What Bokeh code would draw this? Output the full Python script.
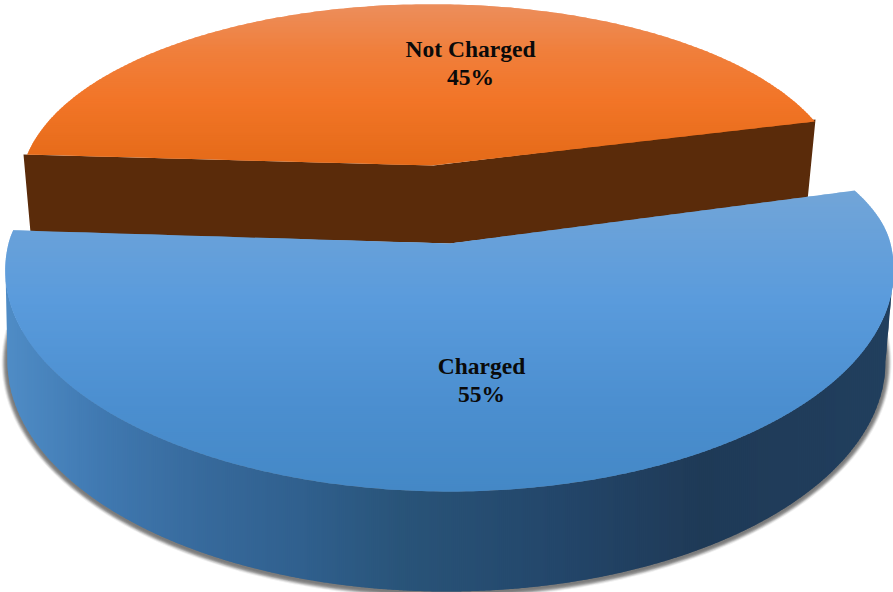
import numpy as np
from bokeh.plotting import figure
from bokeh.models import Range1d
from bokeh.core.properties import value
from bokeh.embed import file_html
from bokeh.resources import INLINE

# data
categories = ["Charged", "Not Charged"]
shares = [55, 45]
share_labels = ["55%", "45%"]

# geometry of the tilted pie, in reference pixels
W, H = 893, 592
START_DEG = -14.5
K = -0.122
BLUE_TOP = dict(x0=449, y0=243, a=441, b=217.7, pinch=0.35)
BLUE_BASE = dict(cx=446, cy=361, a=439, b=230)
BLUE_TOP_E = dict(cx=449, cy=270, a=444, b=221)
ORANGE_TOP = dict(x0=431, y0=165, a=408, b=181, pinch=0.0)
ORANGE_WALL = [(23, 154), (433, 165), (815, 119), (807, 200), (450, 243), (30, 232)]
LABEL_XY = {"Charged": (481, 365), "Not Charged": (470, 48)}
LINE_GAP = 28

# colours
BLUE_FACE = [(190, "#72a5d8"), (300, "#5a9bdc"), (400, "#4c8fd0"), (491, "#4488c6")]
ORANGE_FACE = [(4, "#ec8e5c"), (50, "#f07f3c"), (100, "#f27527"), (165, "#e46a18")]
BLUE_WALL = [(5, "#4f8cc6"), (100, "#4079b1"), (200, "#376a9c"), (300, "#30608e"),
             (400, "#295479"), (560, "#23466a"), (700, "#1f3a57"), (893, "#213f5e")]
ORANGE_SIDE = "#5a2b0a"
SHADOW = "#5f5f5f"


def rgb(h):
    return [int(h[i:i + 2], 16) for i in (1, 3, 5)]


def ramp(stops, t):
    pos = [s[0] for s in stops]
    cols = np.array([rgb(s[1]) for s in stops], float)
    c = [int(round(np.interp(t, pos, cols[:, i]))) for i in range(3)]
    return "#%02x%02x%02x" % tuple(c)


def project(theta, x0, y0, a, b, pinch):
    v = np.sin(theta)
    d = 1 + K * v
    squeeze = 1 - pinch * np.minimum(v, 0) ** 2
    return x0 + a * np.cos(theta) * squeeze / d, y0 + b * v / d


def sector(g, t0, t1):
    t = np.linspace(t0, t1, 240)
    x, y = project(t, **g)
    return [(g["x0"], g["y0"])] + list(zip(x, y))


def clip(poly, axis, lim, keep_low):
    out = []
    n = len(poly)
    inside = lambda p: p[axis] <= lim if keep_low else p[axis] >= lim
    for i in range(n):
        a, b = poly[i], poly[(i + 1) % n]
        ia, ib = inside(a), inside(b)
        if ia:
            out.append(a)
        if ia != ib:
            s = (lim - a[axis]) / (b[axis] - a[axis])
            out.append((a[0] + s * (b[0] - a[0]), a[1] + s * (b[1] - a[1])))
    return out


def bands(poly, axis, stops, step=2):
    vals = [p[axis] for p in poly]
    xs, ys, cs = [], [], []
    lo = np.floor(min(vals))
    hi = max(vals)
    while lo < hi:
        piece = clip(clip(poly, axis, lo, False), axis, lo + step + 1, True)
        if len(piece) >= 3:
            xs.append([q[0] for q in piece])
            ys.append([q[1] for q in piece])
            cs.append(ramp(stops, lo + step / 2))
        lo += step
    return xs, ys, cs


def half_ellipse(e, t0, t1, n=240):
    t = np.linspace(t0, t1, n)
    return e["cx"] + e["a"] * np.cos(t), e["cy"] + e["b"] * np.sin(t)


start = np.radians(START_DEG)
sweep_blue = 2 * np.pi * shares[0] / sum(shares)
sweep_orange = 2 * np.pi * shares[1] / sum(shares)

p = figure(width=W, height=H, output_backend="svg", toolbar_location=None,
           x_range=Range1d(0, W), y_range=Range1d(H, 0), min_border=0,
           background_fill_color="white", border_fill_color="white")
p.axis.visible = False
p.grid.visible = False
p.outline_line_color = None

# orange slice: wall below the face
p.patch([q[0] for q in ORANGE_WALL], [q[1] for q in ORANGE_WALL],
        fill_color=ORANGE_SIDE, line_color=None)
orange_poly = sector(ORANGE_TOP, start + sweep_blue, start + sweep_blue + sweep_orange)
xs, ys, cs = bands(orange_poly, 1, ORANGE_FACE)
p.patches(xs, ys, fill_color=cs, line_color=None)

# soft shadow below the blue slice
for d, al in [(6, .10), (5, .20), (4, .30), (3, .35), (2, .30), (1, .20)]:
    sx, sy = half_ellipse(dict(cx=BLUE_BASE["cx"], cy=BLUE_BASE["cy"] + 1,
                               a=BLUE_BASE["a"] + d, b=BLUE_BASE["b"] + d),
                          np.radians(-8), np.radians(188))
    p.patch(list(sx), list(sy), fill_color=SHADOW, fill_alpha=al, line_color=None)

# blue slice: outer wall
bx, by = half_ellipse(BLUE_BASE, np.pi, 0)
tx, ty = half_ellipse(BLUE_TOP_E, 0, np.pi)
wall_poly = list(zip(bx, by)) + list(zip(tx, ty))
xs, ys, cs = bands(wall_poly, 0, BLUE_WALL)
p.patches(xs, ys, fill_color=cs, line_color=None)

# blue slice: face
blue_poly = sector(BLUE_TOP, start, start + sweep_blue)
xs, ys, cs = bands(blue_poly, 1, BLUE_FACE)
p.patches(xs, ys, fill_color=cs, line_color=None)

# labels
lab_x, lab_y, lab_t = [], [], []
for name, pct in zip(categories, share_labels):
    x, y = LABEL_XY[name]
    lab_x += [x, x]
    lab_y += [y, y + LINE_GAP]
    lab_t += [name, pct]
p.text(lab_x, lab_y, text=lab_t, text_font=value("Liberation Serif"), text_font_style="bold",
       text_font_size="23.5px", text_align="center", text_baseline="middle",
       text_color="#0a0a0a")

open("out.html", "w").write(file_html(p, INLINE))
